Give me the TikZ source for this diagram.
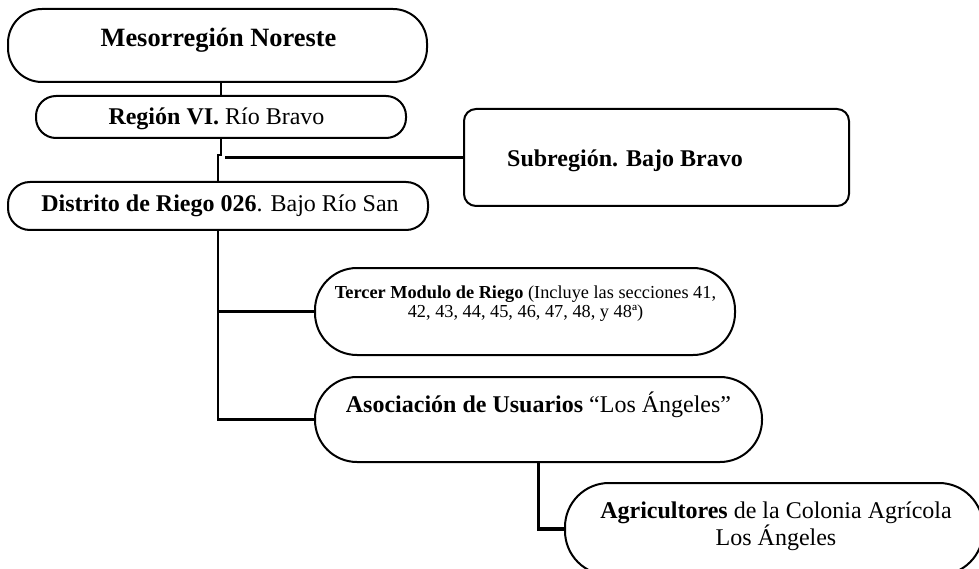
\documentclass[tikz,border=0pt]{standalone}
\usepackage{fontspec}
\setmainfont{Liberation Serif}
\begin{document}
\begin{tikzpicture}[x=1pt,y=-1pt,
  box/.style={draw, line width=2pt, inner sep=0pt},
  link/.style={line width=2.2pt},
  thicklink/.style={line width=3.4pt},
  txt/.style={inner sep=0pt, anchor=base},
  big/.style={font=\fontsize{26.4}{28}\selectfont\bfseries},
  mid/.style={font=\fontsize{24}{25}\selectfont},
  small/.style={font=\fontsize{18.3}{19}\selectfont}]
\useasboundingbox (0,0) rectangle (979,569);
\clip (0,0) rectangle (979,569);
% boxes
\node[box, rounded corners=34pt, minimum width=419pt, minimum height=73pt] (b1) at (217.5,45.5) {};
\node[box, rounded corners=20pt, minimum width=370pt, minimum height=42pt] (b2) at (221,117) {};
\node[box, rounded corners=22pt, minimum width=420pt, minimum height=48pt] (b3) at (218,206) {};
\node[box, rounded corners=12pt, minimum width=385pt, minimum height=97pt] (sub) at (656.5,157.5) {};
\node[box, rounded corners=42pt, minimum width=420pt, minimum height=87pt] (terc) at (525,311.5) {};
\node[box, rounded corners=42pt, minimum width=447pt, minimum height=85pt] (asoc) at (538.5,419.5) {};
\node[box, rounded corners=44pt, minimum width=418pt, minimum height=92pt] (agri) at (774,529) {};
% texts
\node[txt, big] (t1) at (218.5,47) {Mesorregión Noreste};
\node[txt, mid] (t2) at (216.5,125) {\textbf{Región VI.} Río Bravo};
\node[txt, mid] (t3) at (220,212) {\textbf{Distrito de Riego 026}. Bajo Río San};
\node[txt, mid] (t4) at (625,167) {\textbf{Subregión. Bajo Bravo}};
\node[txt, small, align=center] (t5) at (525.5,317) {\textbf{Tercer Modulo de Riego} (Incluye las secciones 41,\\42, 43, 44, 45, 46, 47, 48, y 48ª)};
\node[txt, mid] (t6) at (538.5,412) {\textbf{Asociación de Usuarios} “Los Ángeles”};
\node[txt, mid, align=center] (t7) at (776,545) {\textbf{Agricultores} de la Colonia Agrícola\\Los Ángeles};
% connectors
\coordinate (j1) at (221,155);
\coordinate (hs) at (225,157.5);
\draw[link] (b2.north) -- (b2.north |- b1.south);
\draw[link] (b2.south) -- (j1) -| (b3.north);
\draw[link] (hs) -- (sub.west);
\draw[link] (b3.south) |- (asoc.west);
\draw[link] (b3.south |- terc.west) -- (terc.west);
\draw[thicklink] (asoc.south) |- (agri.west);
\end{tikzpicture}
\end{document}
